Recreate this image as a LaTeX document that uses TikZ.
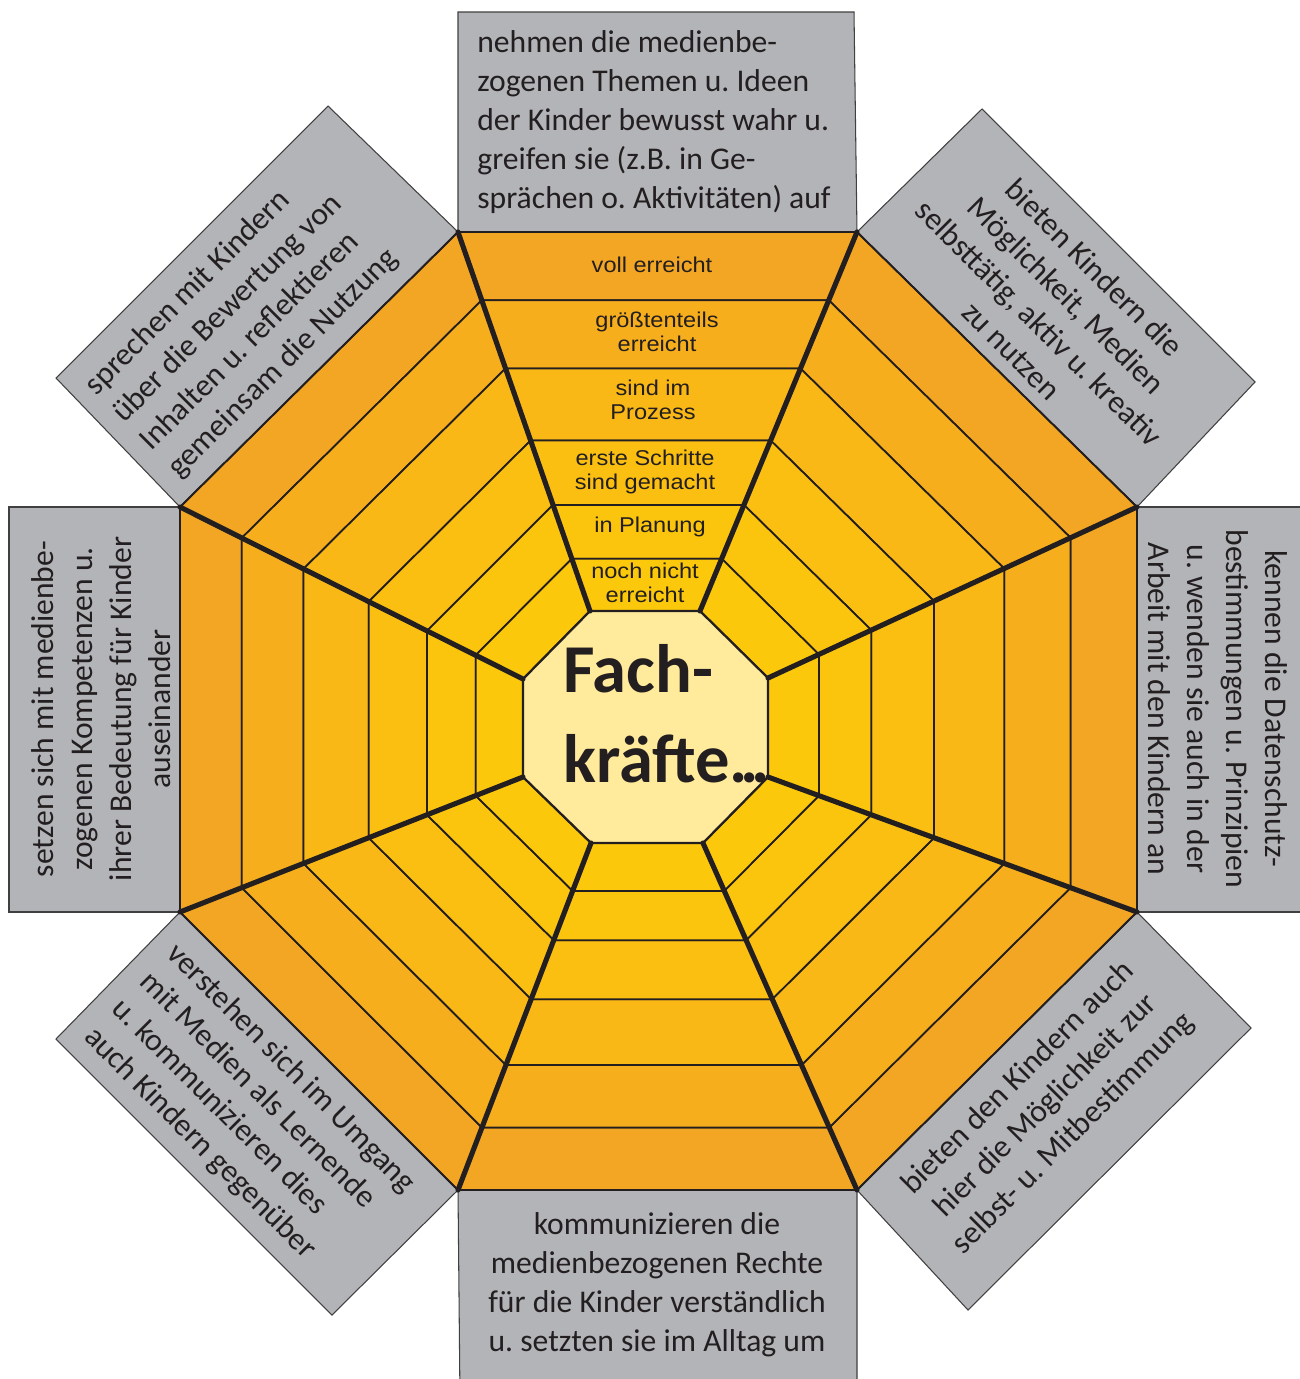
\documentclass[tikz,border=0pt]{standalone}
\usepackage{fontspec}
\setmainfont{Carlito}
\newfontfamily\labelfont[FakeStretch=1.1]{Liberation Sans}
\usetikzlibrary{calc}
\definecolor{ink}{HTML}{231F20}
\definecolor{boxgrey}{HTML}{B3B4B8}
\definecolor{core}{HTML}{FFEB9B}
\definecolor{bandA}{HTML}{F3A623}
\definecolor{bandB}{HTML}{F7AE1D}
\definecolor{bandC}{HTML}{FAB817}
\definecolor{bandD}{HTML}{FBBF12}
\definecolor{bandE}{HTML}{FCC50D}
\definecolor{bandF}{HTML}{FCC80B}
\frenchspacing
\begin{document}
\begin{tikzpicture}[x=0.02cm,y=-0.02cm,
    card/.style={fill=boxgrey,draw=black!75,line width=0.6pt},
    band/.style={draw=ink,line width=1pt},
    spoke/.style={draw=ink,line width=2.9pt,line cap=round},
    boxtext/.style={font=\fontsize{18}{22.2}\selectfont,text=ink,inner sep=0pt},
    steptext/.style={font=\labelfont\fontsize{12.2}{13.3}\selectfont,align=center,text=ink,inner sep=0pt}]
  \useasboundingbox (0,0) rectangle (1300,1379);
  \clip (0,0) rectangle (1300,1379);
  \coordinate (o1) at (458,232);
  \coordinate (o2) at (857,232);
  \coordinate (o3) at (1137,507);
  \coordinate (o4) at (1137,912);
  \coordinate (o5) at (857,1190);
  \coordinate (o6) at (458,1190);
  \coordinate (o7) at (180,912);
  \coordinate (o8) at (180,507);
  \coordinate (i1) at (590,611);
  \coordinate (i2) at (700,611);
  \coordinate (i3) at (768,678);
  \coordinate (i4) at (768,777);
  \coordinate (i5) at (703,843);
  \coordinate (i6) at (591,843);
  \coordinate (i7) at (523,777);
  \coordinate (i8) at (523,679);
  \filldraw[card] (o1) -- (458,12) -- (854,12) -- (o2) -- cycle;
  \filldraw[card] (o2) -- (982,109) -- (1255,382) -- (o3) -- cycle;
  \filldraw[card] (o3) -- (1320,507) -- (1320,912) -- (o4) -- cycle;
  \filldraw[card] (o4) -- (1251,1028) -- (968,1310) -- (o5) -- cycle;
  \filldraw[card] (o5) -- (857,1400) -- (460,1400) -- (o6) -- cycle;
  \filldraw[card] (o6) -- (332,1315) -- (56,1039) -- (o7) -- cycle;
  \filldraw[card] (o7) -- (9,912) -- (9,507) -- (o8) -- cycle;
  \filldraw[card] (o8) -- (56,378) -- (328,106) -- (o1) -- cycle;
  \foreach \s/\t in {1/2,2/3,3/4,4/5,5/6,6/7,7/8,8/1}
    \foreach \a/\b/\c in {0/0.18/bandA,0.18/0.36/bandB,0.36/0.55/bandC,0.55/0.72/bandD,0.72/0.862/bandE,0.862/1/bandF}
      \filldraw[band,fill=\c] ($(o\s)!\a!(i\s)$) -- ($(o\t)!\a!(i\t)$) -- ($(o\t)!\b!(i\t)$) -- ($(o\s)!\b!(i\s)$) -- cycle;
  \filldraw[fill=core,draw=ink,line width=1.3pt] (i1) -- (i2) -- (i3) -- (i4) -- (i5) -- (i6) -- (i7) -- (i8) -- cycle;
  \foreach \s in {1,...,8}
    \draw[spoke] (o\s) -- (i\s);
  \draw[ink,line width=1pt] (o1) -- (o2) -- (o3) -- (o4) -- (o5) -- (o6) -- (o7) -- (o8) -- cycle;
  \node[steptext] (voll) at (652,265) {voll erreicht};
  \node[steptext] (groesst) at (657,332) {größtenteils\\erreicht};
  \node[steptext] (prozess) at (653,400) {sind im\\Prozess};
  \node[steptext] (schritte) at (645,472) {erste Schritte\\sind gemacht};
  \node[steptext] (planung) at (650,527) {in Planung};
  \node[steptext] (nochnicht) at (645,583) {noch nicht\\erreicht};
  \node[font=\bfseries\fontsize{39}{51}\selectfont,align=left,text=ink,inner sep=0pt,anchor=west] (fach) at (563,714) {Fach-\\kräfte.\kern-0.11em.\kern-0.11em.};
  \node[boxtext,align=left,anchor=west] (themen) at (477,122) {nehmen die medienbe-\\zogenen Themen u. Ideen\\der Kinder bewusst wahr u.\\greifen sie (z.B. in Ge-\\sprächen o. Aktivitäten) auf};
  \node[boxtext,align=center] (rechte) at (657,1285) {kommunizieren die\\medienbezogenen Rechte\\für die Kinder verständlich\\u. setzten sie im Alltag um};
  \node[boxtext,align=center,rotate=90] (kompetenz) at (101,709) {setzen sich mit medienbe-\\zogenen Kompetenzen u.\\ihrer Bedeutung für Kinder\\auseinander};
  \node[boxtext,align=center,rotate=-90] (datenschutz) at (1218,709) {kennen die Datenschutz-\\bestimmungen u. Prinzipien\\u. wenden sie auch in der\\Arbeit mit den Kindern an};
  \node[boxtext,align=left,rotate=45,anchor=west] (bewertung) at (132,432) {sprechen mit Kindern\\über die Bewertung von\\Inhalten u. reflektieren\\gemeinsam die Nutzung};
  \node[boxtext,align=center,rotate=-45] (kreativ) at (1053,309) {bieten Kindern die\\Möglichkeit, Medien\\selbsttätig, aktiv u. kreativ\\zu nutzen};
  \node[boxtext,align=left,rotate=-45,anchor=west] (lernende) at (130,991) {verstehen sich im Umgang\\mit Medien als Lernende\\u. kommunizieren dies\\auch Kindern gegenüber};
  \node[boxtext,align=center,rotate=45] (mitbestimmung) at (1046,1106) {bieten den Kindern auch\\hier die Möglichkeit zur\\selbst- u. Mitbestimmung};
\end{tikzpicture}
\end{document}
